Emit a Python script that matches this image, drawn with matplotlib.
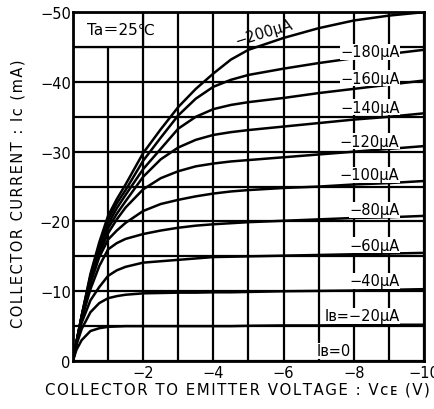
import matplotlib
matplotlib.use("Agg")
import matplotlib.pyplot as plt
from matplotlib.patches import Rectangle

# collector-emitter voltage (V) at which the curves were read
vce = [0, -0.1, -0.25, -0.5, -0.75, -1, -1.25, -1.5, -2, -2.5, -3, -3.5,
       -4, -4.5, -5, -6, -7, -8, -9, -10]

# collector current (mA) for each base current
ic_20 = [0, -1.6, -3.0, -4.3, -4.7, -4.9, -4.95, -5.0, -5.0, -5.0, -5.0, -5.0,
         -5.0, -5.0, -5.05, -5.1, -5.1, -5.15, -5.2, -5.2]
ic_40 = [0, -2.3, -4.6, -7.0, -8.3, -9.0, -9.3, -9.5, -9.7, -9.75, -9.8, -9.8,
         -9.85, -9.85, -9.9, -10.0, -10.05, -10.1, -10.2, -10.3]
ic_60 = [0, -2.5, -5.5, -8.7, -10.6, -12.2, -13.0, -13.5, -14.1, -14.3, -14.5, -14.7,
         -14.9, -14.95, -15.0, -15.1, -15.2, -15.3, -15.4, -15.5]
ic_80 = [0, -2.6, -6.0, -10.3, -13.6, -16.0, -16.9, -17.5, -18.2, -18.7, -19.1, -19.4,
         -19.6, -19.75, -19.9, -20.1, -20.3, -20.5, -20.6, -20.8]
ic_100 = [0, -2.6, -6.2, -11.1, -14.9, -17.4, -18.7, -19.8, -21.5, -22.5, -23.1, -23.6,
          -24.0, -24.3, -24.5, -24.8, -25.0, -25.3, -25.5, -25.8]
ic_120 = [0, -2.6, -6.3, -11.4, -15.4, -18.3, -20.3, -22.0, -24.6, -26.2, -27.2, -27.9,
          -28.3, -28.6, -28.8, -29.2, -29.6, -30.0, -30.4, -30.8]
ic_140 = [0, -2.6, -6.4, -11.7, -15.8, -19.0, -21.1, -22.9, -26.4, -28.9, -30.6, -31.7,
          -32.4, -32.8, -33.1, -33.6, -34.1, -34.6, -35.0, -35.5]
ic_160 = [0, -2.7, -6.4, -12.0, -16.2, -19.6, -21.9, -23.8, -27.5, -30.4, -33.3, -35.0,
          -36.1, -36.7, -37.1, -37.7, -38.4, -39.0, -39.6, -40.2]
ic_180 = [0, -2.7, -6.5, -12.2, -16.6, -20.2, -22.6, -24.5, -28.7, -32.0, -35.2, -37.6,
          -39.3, -40.3, -41.0, -41.9, -42.7, -43.4, -44.0, -44.6]
ic_200 = [0, -2.7, -6.5, -12.5, -17.0, -20.8, -23.2, -25.3, -29.8, -33.2, -36.4, -39.0,
          -41.2, -43.2, -44.6, -46.3, -47.7, -48.8, -49.5, -50.0]

curves = [ic_20, ic_40, ic_60, ic_80, ic_100, ic_120, ic_140, ic_160, ic_180, ic_200]
curve_labels = ["I\u0299=\u221220\u03bcA", "\u221240\u03bcA", "\u221260\u03bcA", "\u221280\u03bcA",
                "\u2212100\u03bcA", "\u2212120\u03bcA", "\u2212140\u03bcA", "\u2212160\u03bcA",
                "\u2212180\u03bcA", "\u2212200\u03bcA"]
x_ticks = [-2, -4, -6, -8, -10]
y_ticks = [0, -10, -20, -30, -40, -50]


def spaced(s):
    # the original lettering is widely tracked
    return "\u200a".join(s)


plt.rcParams['font.family'] = ['DejaVu Sans', 'Noto Sans CJK JP']
fig = plt.figure(figsize=(4.34, 4.10), dpi=100)
ax = fig.add_axes([0.168, 0.117, 0.809, 0.851])

ax.set_xlim(0, -10)
ax.set_ylim(0, -50)
ax.set_xticks(x_ticks)
ax.set_xticks(range(0, -11, -1), minor=True)
ax.set_yticks(y_ticks)
ax.set_yticks(range(0, -51, -5), minor=True)
ax.set_axisbelow(True)
ax.grid(True, which="both", color="black", linewidth=1.6)
ax.tick_params(which="both", length=0, labelsize=10.5)
ax.tick_params(axis="y", pad=1.5)
ax.tick_params(axis="x", pad=3)
for sp in ax.spines.values():
    sp.set_linewidth(2)

for ic in curves:
    ax.plot(vce, ic, color="black", linewidth=1.8, solid_joinstyle="round")

# box for the temperature note
ax.add_patch(Rectangle((0, -45), -2, -5, facecolor="white", edgecolor="black",
                       linewidth=1.6, zorder=1))
ax.text(-0.4, -47.6, "Ta\uff1d25\u2103", fontsize=11, va="center", ha="left")

# curve labels
lab_pos = [(-9.3, -6.5), (-9.3, -11.5), (-9.3, -16.6), (-9.3, -21.7), (-9.3, -26.7),
           (-9.3, -31.5), (-9.3, -36.4), (-9.3, -40.5), (-9.3, -44.3)]
for (x, y), s in zip(lab_pos, curve_labels[:9]):
    ax.text(x, y, s, fontsize=10.5, ha="right", va="center", zorder=3,
            bbox=dict(facecolor="white", edgecolor="none", pad=0.3))
ax.text(-5.45, -47.1, curve_labels[9], fontsize=10.5, ha="center", va="center",
        rotation=17, zorder=3)
ax.text(-6.95, -1.5, "I\u0299=0", fontsize=10.5, ha="left", va="center", zorder=3,
        bbox=dict(facecolor="white", edgecolor="none", pad=0.3))

fig.text(237 / 434, 1 - 390 / 410, spaced("COLLECTOR TO EMITTER VOLTAGE : V\u1d04\u1d07 (V)"),
         fontsize=10.8, ha="center", va="center")
fig.text(18 / 434, 1 - 194 / 410, spaced("COLLECTOR CURRENT : I\u1d04 (mA)"),
         fontsize=10.5, ha="center", va="center", rotation=90)

fig.savefig("out.png", dpi=100)
